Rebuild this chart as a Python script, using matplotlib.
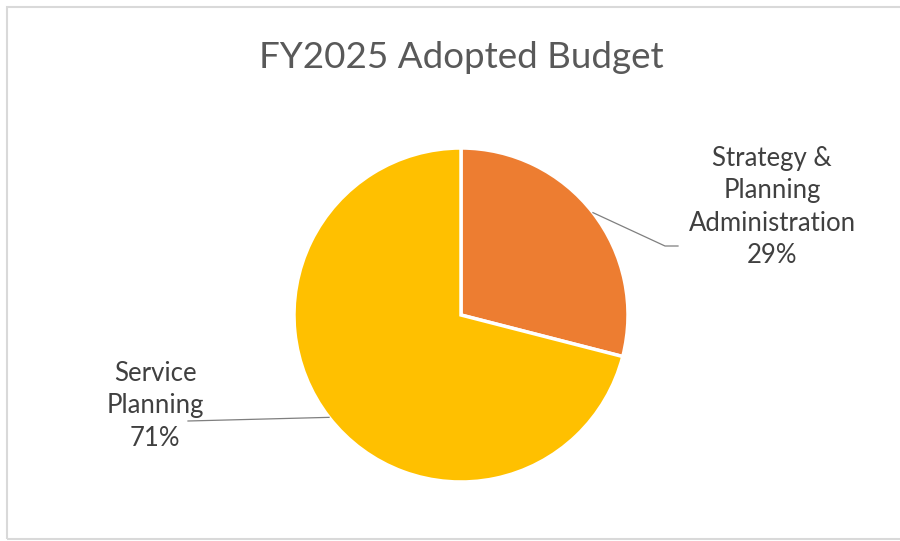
import numpy as np
import matplotlib.pyplot as plt
from matplotlib.patches import Rectangle

plt.rcParams['font.family'] = ['Lato', 'DejaVu Sans']

# budget split
categories = ['Strategy &\nPlanning\nAdministration', 'Service\nPlanning']
shares = [29, 71]
colors = ['#ED7D31', '#FFC000']
title = 'FY2025 Adopted Budget'

W, H = 900, 541
fig = plt.figure(figsize=(W / 100, H / 100), dpi=100)
ax = fig.add_axes([0, 0, 1, 1])
ax.set_xlim(0, W)
ax.set_ylim(0, H)
ax.set_aspect('equal')
ax.axis('off')

# chart area border
ax.add_patch(Rectangle((7, 2), W, H - 9, fill=False, ec='#d9d9d9', lw=1.5))

cx, cy, r = 461, H - 315, 167
wedges, _ = ax.pie(shares, colors=colors, startangle=90, counterclock=False,
                   center=(cx, cy), radius=r,
                   wedgeprops=dict(edgecolor='white', linewidth=2.5))
ax.set_xlim(0, W)
ax.set_ylim(0, H)

ax.text(cx, H - 58, title, ha='center', va='center', fontsize=26.5, color='#595959')

# label placement: (text centre x, text centre y, leader elbow x, leader end x)
label_pos = [(772, H - 207, 665, 678), (155, H - 406, 188, 188)]
for w, cat, s, (tx, ty, ex, endx) in zip(wedges, categories, shares, label_pos):
    mid = np.deg2rad((w.theta1 + w.theta2) / 2)
    px, py = cx + r * np.cos(mid), cy + r * np.sin(mid)
    if tx > cx:
        ey = H - 246
        ax.plot([px, ex, endx], [py, ey, ey], color='#7f7f7f', lw=0.9)
    else:
        ax.plot([px, ex], [py, H - 421], color='#7f7f7f', lw=0.9)
    ax.text(tx, ty, f'{cat}\n{s}%', ha='center', va='center', fontsize=18.5,
            color='#404040', linespacing=1.36)

fig.savefig('out.png', dpi=100)
